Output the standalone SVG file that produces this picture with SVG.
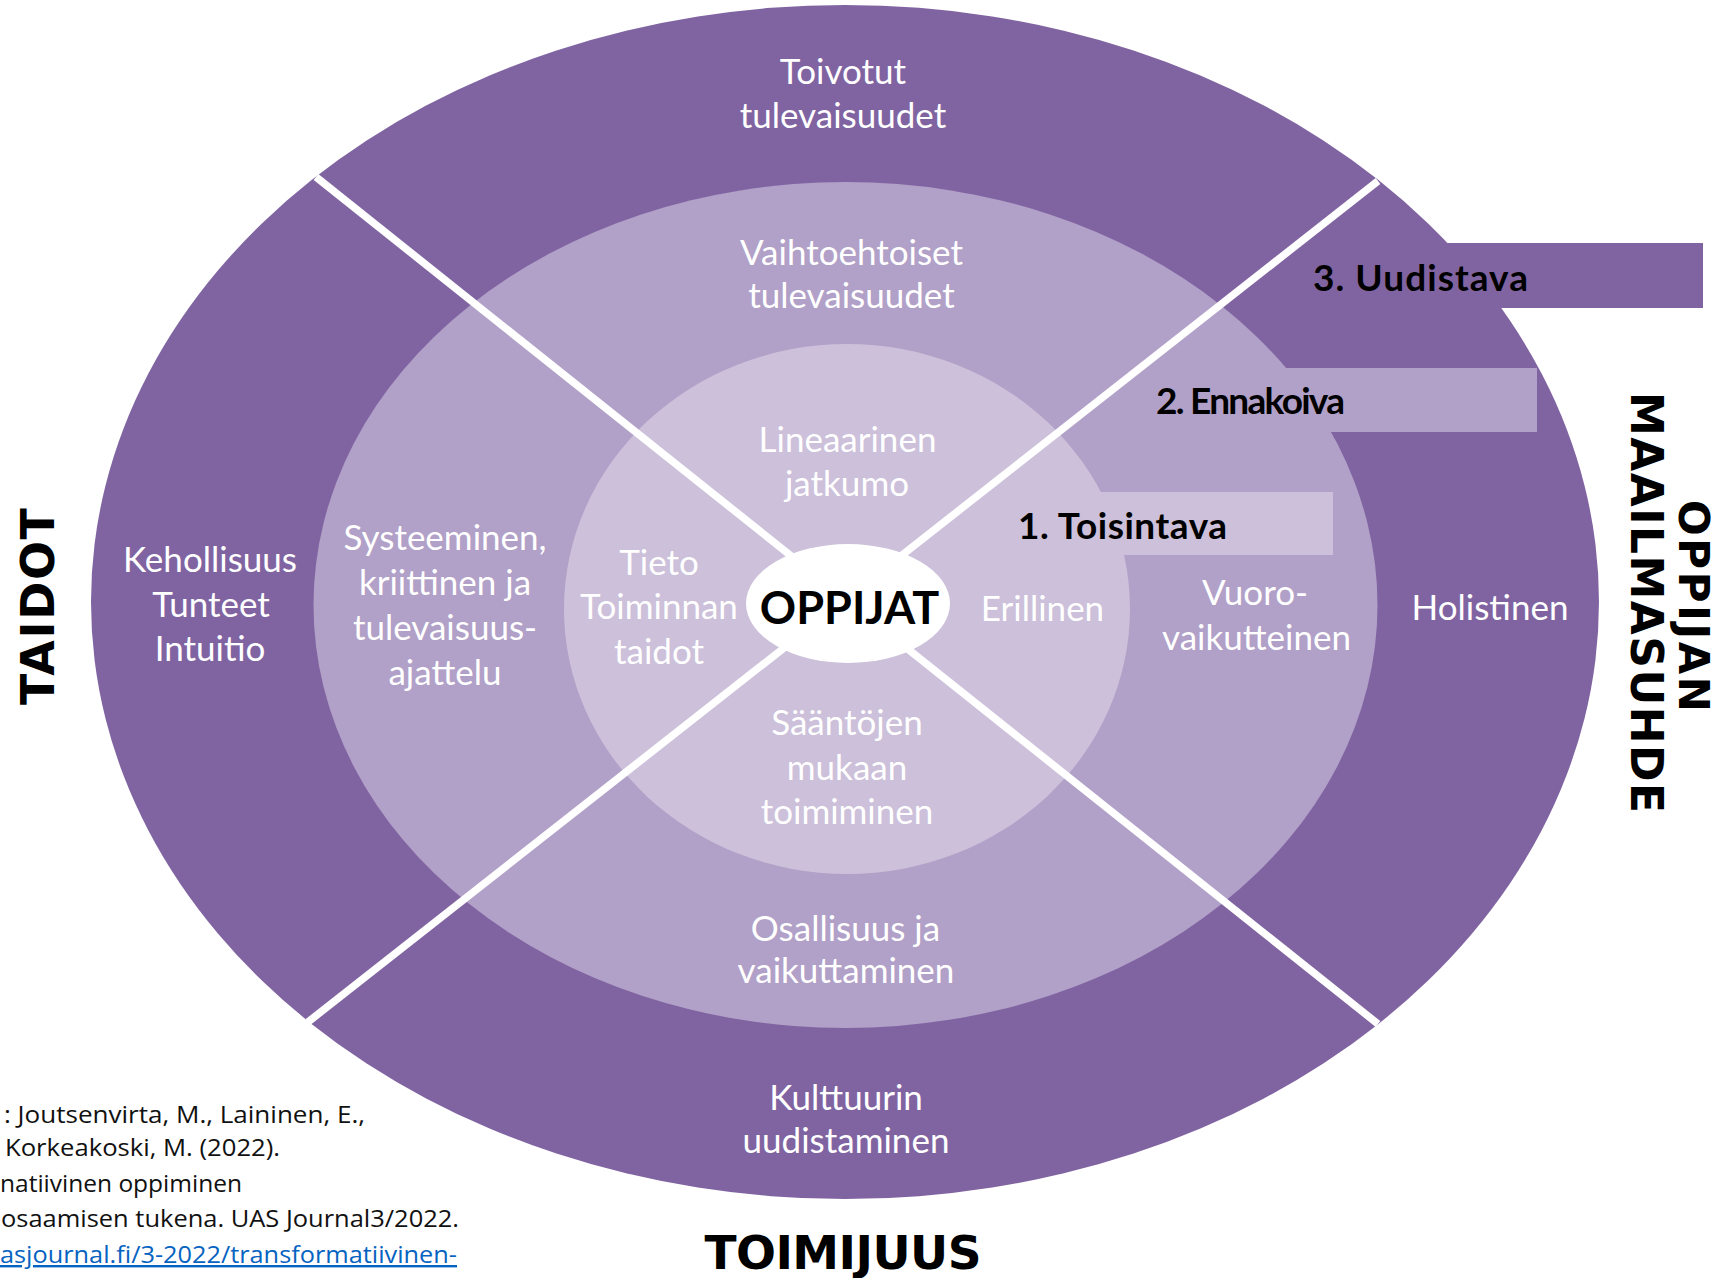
<svg xmlns="http://www.w3.org/2000/svg" width="1726" height="1278" viewBox="0 0 1726 1278">
<style>
.lbl{font-family:Lato,"Open Sans","Liberation Sans",sans-serif;font-size:35px;fill:#fff;text-anchor:middle}
.lvl{font-family:Lato,"Open Sans","Liberation Sans",sans-serif;font-size:37px;font-weight:700;fill:#000}
.axis{font-family:"DejaVu Sans","Liberation Sans",sans-serif;font-weight:700;fill:#000;text-anchor:middle}
.cite{font-family:"Open Sans","Liberation Sans",sans-serif;font-size:24px;fill:#111}
.c1{fill:#8064A2}.c2{fill:#B1A0C7}.c3{fill:#CCC0DA}
</style>
<rect width="1726" height="1278" fill="#fff"/>
<g id="ring-outer"><ellipse class="c1" cx="845" cy="602" rx="754" ry="597"/></g>
<g id="ring-middle"><ellipse class="c2" cx="845.5" cy="605" rx="532" ry="423"/></g>
<g id="ring-inner"><ellipse class="c3" cx="847" cy="609" rx="283" ry="265"/></g>
<g id="level-boxes">
<rect id="box-3" class="c1" x="1420" y="243" width="283" height="65"/>
<rect id="box-2" class="c2" x="1250" y="368" width="287" height="64"/>
<rect id="box-1" class="c3" x="1060" y="492" width="273" height="63"/>
</g>
<g id="connectors" stroke="#fff" stroke-width="7.5" fill="none">
<line x1="316" y1="177" x2="1378" y2="1024"/>
<line x1="1378" y1="181" x2="308" y2="1022"/>
</g>
<g id="oppijat">
<ellipse cx="848" cy="603.5" rx="102" ry="59.5" fill="#fff"/>
<text x="849.5" y="624" font-family="Lato,'Open Sans','Liberation Sans',sans-serif" font-size="45" font-weight="700" text-anchor="middle" fill="#000">OPPIJAT</text>
</g>
<g id="outer-labels" class="lbl">
<text x="843" y="84">Toivotut</text>
<text x="843" y="128">tulevaisuudet</text>
<text x="210" y="572">Kehollisuus</text>
<text x="211" y="616.5">Tunteet</text>
<text x="210" y="661">Intuitio</text>
<text x="1490" y="619.5">Holistinen</text>
<text x="846" y="1110">Kulttuurin</text>
<text x="846" y="1153">uudistaminen</text>
</g>
<g id="middle-labels" class="lbl">
<text x="851.5" y="265">Vaihtoehtoiset</text>
<text x="851.5" y="308">tulevaisuudet</text>
<text x="445" y="550">Systeeminen,</text>
<text x="445" y="595">kriittinen ja</text>
<text x="445" y="640">tulevaisuus-</text>
<text x="445" y="685">ajattelu</text>
<text x="1255" y="605">Vuoro-</text>
<text x="1256.5" y="649.5">vaikutteinen</text>
<text x="845.5" y="940.5">Osallisuus ja</text>
<text x="846" y="983">vaikuttaminen</text>
</g>
<g id="inner-labels" class="lbl">
<text x="847.5" y="451.5">Lineaarinen</text>
<text x="847" y="495.5">jatkumo</text>
<text x="659" y="574.5">Tieto</text>
<text x="659" y="619">Toiminnan</text>
<text x="659" y="664">taidot</text>
<text x="1042.5" y="620.5">Erillinen</text>
<text x="847" y="735">Sääntöjen</text>
<text x="847" y="779.5">mukaan</text>
<text x="847" y="824">toimiminen</text>
</g>
<g id="level-labels" class="lvl">
<text x="1313" y="291" textLength="215">3. Uudistava</text>
<text x="1156" y="414" textLength="189">2. Ennakoiva</text>
<text x="1018" y="538.5" textLength="209">1. Toisintava</text>
</g>
<g id="axis-labels" class="axis">
<text transform="translate(54,606.5) rotate(-90)" font-size="46" textLength="197">TAIDOT</text>
<text transform="translate(1679,606) rotate(90)" font-size="42" textLength="212">OPPIJAN</text>
<text transform="translate(1631,602.5) rotate(90)" font-size="44" textLength="421">MAAILMASUHDE</text>
<text x="843" y="1268.5" font-size="47" textLength="277">TOIMIJUUS</text>
</g>
<g id="citation" class="cite">
<text x="4" y="1123" textLength="361" lengthAdjust="spacingAndGlyphs">: Joutsenvirta, M., Laininen, E.,</text>
<text x="5" y="1156" textLength="275" lengthAdjust="spacingAndGlyphs">Korkeakoski,  M. (2022).</text>
<text x="0" y="1191.5" textLength="242" lengthAdjust="spacingAndGlyphs">natiivinen oppiminen</text>
<text x="1" y="1227" textLength="458" lengthAdjust="spacingAndGlyphs">osaamisen tukena. UAS Journal3/2022.</text>
<text x="0" y="1263" textLength="457" lengthAdjust="spacingAndGlyphs" fill="#0563C1" text-decoration="underline">asjournal.fi/3-2022/transformatiivinen-</text>
</g>
</svg>
